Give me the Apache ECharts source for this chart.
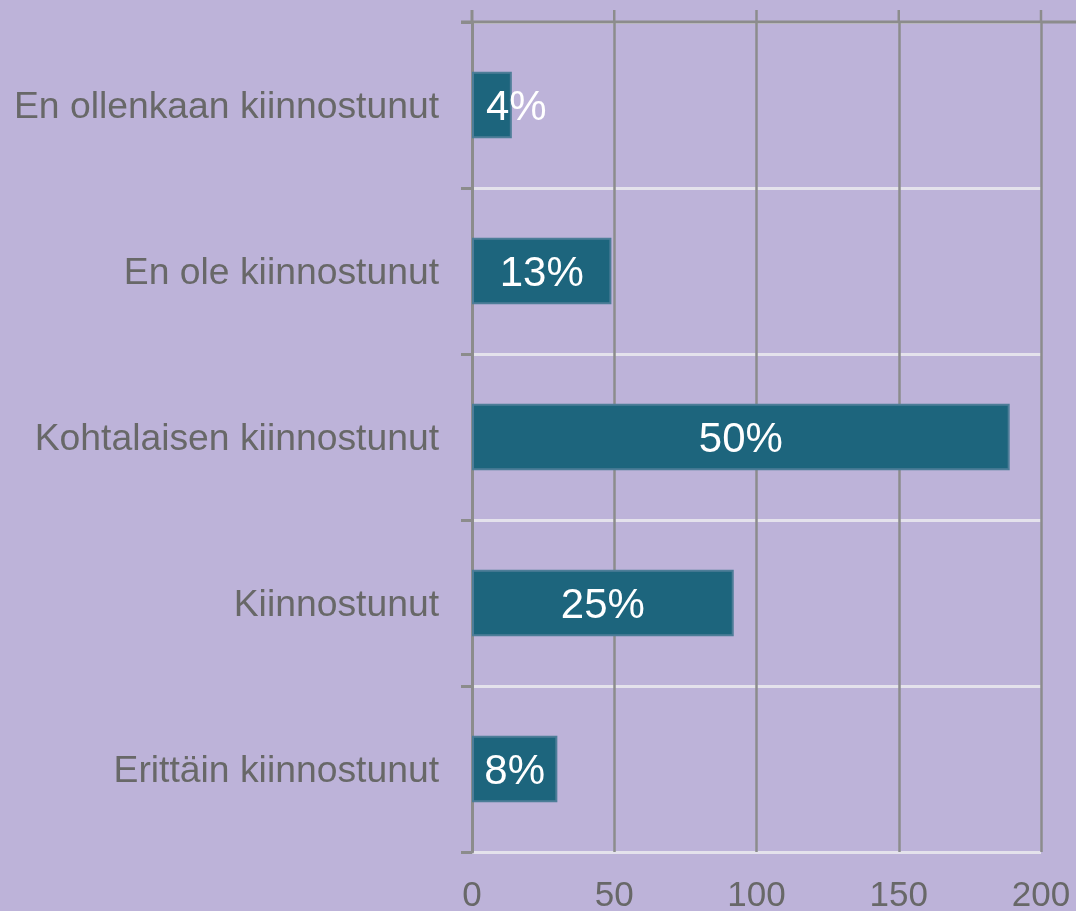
<!DOCTYPE html>
<html>
<head>
<meta charset="utf-8">
<script src="https://cdn.jsdelivr.net/npm/echarts@6/dist/echarts.min.js"></script>
<style>
  html, body { margin: 0; padding: 0; background: #bdb3d9; }
  #chart { width: 1076px; height: 911px; }
</style>
</head>
<body>
<div id="chart"></div>
<script>
// categories, top to bottom
var categories = ['En ollenkaan kiinnostunut', 'En ole kiinnostunut', 'Kohtalaisen kiinnostunut', 'Kiinnostunut', 'Erittäin kiinnostunut'];
// bar lengths (counts) read from the 0..200 axis
var counts = [14, 49, 189, 92, 30];
// share labels printed on the bars
var shareLabels = ['4%', '13%', '50%', '25%', '8%'];
// x axis ticks
var xMin = 0, xMax = 200, xStep = 50;

var gray = '#8c8c8c';
var textGray = '#686868';
var font = 'Liberation Sans, Arial, sans-serif';

var barData = counts.map(function (v, i) {
    var item = { value: v };
    // the smallest bar keeps its label starting inside the bar
    if (v < 20) {
        item.label = { position: 'insideLeft', distance: 14 };
    }
    return item;
});

var myChart = echarts.init(document.getElementById('chart'));
myChart.setOption({
    backgroundColor: '#bdb3d9',
    animation: false,
    grid: { left: 472, right: 35, top: 22, bottom: 59, containLabel: false, outerBoundsMode: 'none' },
    xAxis: {
        type: 'value',
        min: xMin,
        max: xMax,
        interval: xStep,
        axisLine: { show: false },
        axisTick: { show: false },
        axisLabel: { color: textGray, fontSize: 35, fontFamily: font, margin: 27 },
        splitLine: { show: true, lineStyle: { color: gray, width: 2.5 } }
    },
    yAxis: {
        type: 'category',
        inverse: true,
        data: categories,
        axisLine: { show: true, lineStyle: { color: gray, width: 3 } },
        axisTick: { show: true, length: 11, lineStyle: { color: gray, width: 3 } },
        axisLabel: {
            margin: 33,
            formatter: function (v) { return '{c|' + v + '}'; },
            rich: {
                c: { color: textGray, fontSize: 37.3, fontFamily: font, lineHeight: 44, padding: [6, 0, 0, 0] }
            }
        },
        splitLine: { show: true, lineStyle: { color: '#e4e2ec', width: 3 } }
    },
    series: [{
        type: 'bar',
        data: barData,
        barWidth: '40%',
        itemStyle: { color: '#1d657d', borderColor: '#4d7d98', borderWidth: 2 },
        label: {
            show: true,
            position: 'inside',
            color: '#ffffff',
            fontSize: 42,
            fontFamily: font,
            offset: [0, 3],
            formatter: function (p) { return shareLabels[p.dataIndex]; }
        },
        z: 3
    }]
});

// top border line and the short overhang of the vertical grid lines
var leftX = myChart.convertToPixel({ gridIndex: 0 }, [xMin, 0])[0];
var extras = [{
    type: 'line',
    shape: { x1: leftX - 11, y1: 22, x2: 1076, y2: 22 },
    style: { stroke: gray, lineWidth: 3 },
    z: 10
}];
for (var t = xMin; t <= xMax; t += xStep) {
    var px = myChart.convertToPixel({ gridIndex: 0 }, [t, 0])[0];
    extras.push({
        type: 'line',
        shape: { x1: px, y1: 10, x2: px, y2: 22 },
        style: { stroke: gray, lineWidth: t === xMin ? 3 : 2.5 },
        z: 10
    });
}
myChart.setOption({ graphic: extras });

window.onresize = function () {
    myChart.resize();
};
</script>
</body>
</html>
